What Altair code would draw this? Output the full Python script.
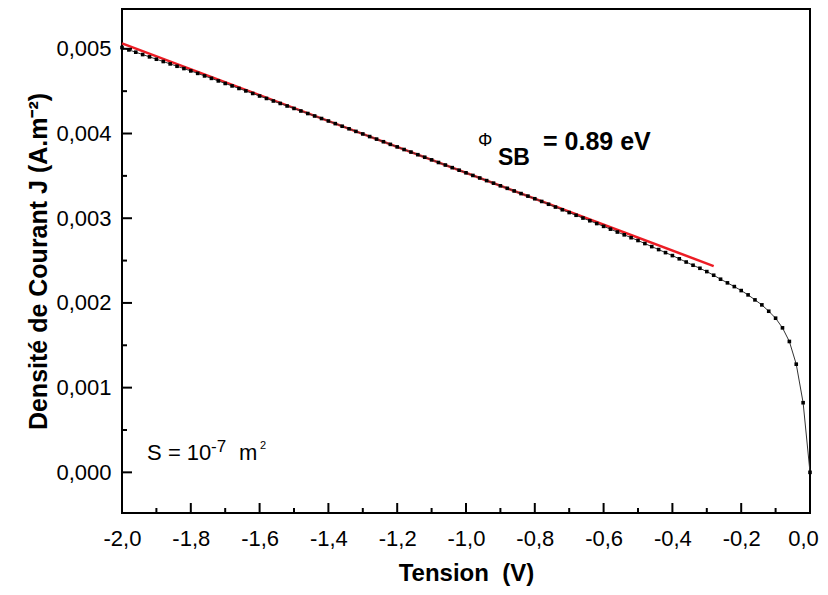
import altair as alt
import pandas as pd

# ---- data ----
tension = [
    -2.00, -1.98, -1.96, -1.94, -1.92, -1.90, -1.88, -1.86, -1.84, -1.82,
    -1.80, -1.78, -1.76, -1.74, -1.72, -1.70, -1.68, -1.66, -1.64, -1.62,
    -1.60, -1.58, -1.56, -1.54, -1.52, -1.50, -1.48, -1.46, -1.44, -1.42,
    -1.40, -1.38, -1.36, -1.34, -1.32, -1.30, -1.28, -1.26, -1.24, -1.22,
    -1.20, -1.18, -1.16, -1.14, -1.12, -1.10, -1.08, -1.06, -1.04, -1.02,
    -1.00, -0.98, -0.96, -0.94, -0.92, -0.90, -0.88, -0.86, -0.84, -0.82,
    -0.80, -0.78, -0.76, -0.74, -0.72, -0.70, -0.68, -0.66, -0.64, -0.62,
    -0.60, -0.58, -0.56, -0.54, -0.52, -0.50, -0.48, -0.46, -0.44, -0.42,
    -0.40, -0.38, -0.36, -0.34, -0.32, -0.30, -0.28, -0.26, -0.24, -0.22,
    -0.20, -0.18, -0.16, -0.14, -0.12, -0.10, -0.08, -0.06, -0.04, -0.02,
    0.00,
]
densite = [
    0.005015, 0.004987, 0.004960, 0.004932, 0.004905, 0.004877, 0.004850, 0.004822, 0.004794, 0.004767,
    0.004739, 0.004710, 0.004680, 0.004651, 0.004621, 0.004591, 0.004562, 0.004532, 0.004503, 0.004473,
    0.004443, 0.004414, 0.004384, 0.004355, 0.004325, 0.004296, 0.004266, 0.004236, 0.004207, 0.004177,
    0.004148, 0.004117, 0.004086, 0.004056, 0.004025, 0.003995, 0.003964, 0.003934, 0.003903, 0.003872,
    0.003842, 0.003811, 0.003781, 0.003750, 0.003720, 0.003689, 0.003658, 0.003628, 0.003597, 0.003567,
    0.003536, 0.003505, 0.003475, 0.003444, 0.003414, 0.003383, 0.003353, 0.003322, 0.003291, 0.003261,
    0.003230, 0.003198, 0.003165, 0.003132, 0.003100, 0.003067, 0.003035, 0.003002, 0.002970, 0.002937,
    0.002904, 0.002871, 0.002837, 0.002804, 0.002770, 0.002737, 0.002701, 0.002665, 0.002630, 0.002594,
    0.002559, 0.002521, 0.002483, 0.002445, 0.002409, 0.002370, 0.002327, 0.002280, 0.002237, 0.002193,
    0.002146, 0.002095, 0.002036, 0.001977, 0.001902, 0.001820, 0.001706, 0.001545, 0.001277, 0.000822,
    0.000000,
]
fit_tension = [-2.0, -0.28]
fit_densite = [0.005065, 0.002435]

x_major = [-2.0, -1.8, -1.6, -1.4, -1.2, -1.0, -0.8, -0.6, -0.4, -0.2, 0.0]
x_minor = [-1.9, -1.7, -1.5, -1.3, -1.1, -0.9, -0.7, -0.5, -0.3, -0.1]
y_major = [0.0, 0.001, 0.002, 0.003, 0.004, 0.005]
y_minor = [0.0005, 0.0015, 0.0025, 0.0035, 0.0045]

df = pd.DataFrame({"V": tension, "J": densite})
fit = pd.DataFrame({"V": fit_tension, "J": fit_densite})

FONT = "Liberation Sans"
W, H = 688, 504
xs = alt.Scale(domain=[-2.0, 0.0], nice=False, zero=False)
ys = alt.Scale(domain=[-0.00048, 0.00547], nice=False, zero=False)

x_label_axis = alt.Axis(
    orient="bottom", values=x_major,
    labelExpr="replace(replace(format(datum.value, '.1f'), '.', ','), '\u2212', '-')",
    ticks=False, tickSize=0, domain=False, grid=False,
    labelFlush=False, labelOverlap=False, labelPadding=15,
    labelOffset={"condition": {"test": "datum.value == 0", "value": -7}, "value": 0},
    labelFont=FONT, labelFontSize=22, labelColor="black",
    title="Tension \u00a0(V)", titleFont=FONT, titleFontSize=24,
    titleFontWeight="bold", titleColor="black", titlePadding=12,
)
y_label_axis = alt.Axis(
    orient="left", values=y_major,
    labelExpr="replace(format(datum.value, '.3f'), '.', ',')",
    ticks=False, tickSize=0, domain=False, grid=False,
    labelFlush=False, labelOverlap=False, labelPadding=11,
    labelFont=FONT, labelFontSize=22, labelColor="black",
    title="Densité de Courant J (A.m\u207b\u00b2)", titleFont=FONT, titleFontSize=25,
    titleFontWeight="bold", titleColor="black", titlePadding=4,
)

red = alt.Chart(fit).mark_line(color="#ec1c24", strokeWidth=2.5).encode(
    x=alt.X("V:Q", scale=xs, axis=None),
    y=alt.Y("J:Q", scale=ys, axis=None),
)
line = alt.Chart(df).mark_line(color="#333333", strokeWidth=1).encode(
    x=alt.X("V:Q", scale=xs, axis=x_label_axis),
    y=alt.Y("J:Q", scale=ys, axis=y_label_axis),
)
pts = alt.Chart(df).mark_point(shape="square", filled=True, size=13,
                               color="black", opacity=1).encode(
    x=alt.X("V:Q", scale=xs, axis=None),
    y=alt.Y("J:Q", scale=ys, axis=None),
)


# inward tick marks: stroked symbols placed through the scales at tick values
def x_ticks(values, length):
    return alt.Chart(pd.DataFrame({"V": values})).mark_point(
        shape="M0,0L0,-2", filled=False, stroke="black", strokeWidth=2,
        size=(length * length), opacity=1,
    ).encode(
        x=alt.X("V:Q", scale=xs, axis=None),
        y=alt.value(H),
    )


def y_ticks(values, length):
    return alt.Chart(pd.DataFrame({"J": values})).mark_point(
        shape="M0,0L2,0", filled=False, stroke="black", strokeWidth=2,
        size=(length * length), opacity=1,
    ).encode(
        y=alt.Y("J:Q", scale=ys, axis=None),
        x=alt.value(0),
    )


def note(text, v, j, size, weight):
    return alt.Chart(pd.DataFrame({"V": [v], "J": [j], "t": [text]})).mark_text(
        align="left", baseline="alphabetic", font=FONT, fontSize=size,
        fontWeight=weight, color="black",
    ).encode(
        x=alt.X("V:Q", scale=xs, axis=None),
        y=alt.Y("J:Q", scale=ys, axis=None),
        text="t:N",
    )


notes = [
    note("\u03a6", -0.965, 0.003856, 18, "normal"),
    note("SB", -0.907, 0.003632, 23, "bold"),
    note("= 0.89 eV", -0.776, 0.003809, 25, "bold"),
    note("S = 10", -1.927, 0.0001415, 22, "normal"),
    note("-7", -1.741, 0.000236, 17, "normal"),
    note("m", -1.660, 0.0001415, 22, "normal"),
    note("2", -1.599, 0.000271, 11, "normal"),
]

chart = alt.layer(
    red, line, pts,
    x_ticks(x_major, 10), x_ticks(x_minor, 5),
    y_ticks(y_major, 10), y_ticks(y_minor, 5),
    *notes,
).resolve_axis(
    x="independent", y="independent"
).properties(
    width=W, height=H,
    padding={"left": 114, "top": 1, "right": 10, "bottom": 80},
    autosize=alt.AutoSizeParams(type="none"),
    background="white",
).configure_view(stroke="black", strokeWidth=2)

chart.save("out.html", embed_options={"renderer": "svg", "actions": False})
